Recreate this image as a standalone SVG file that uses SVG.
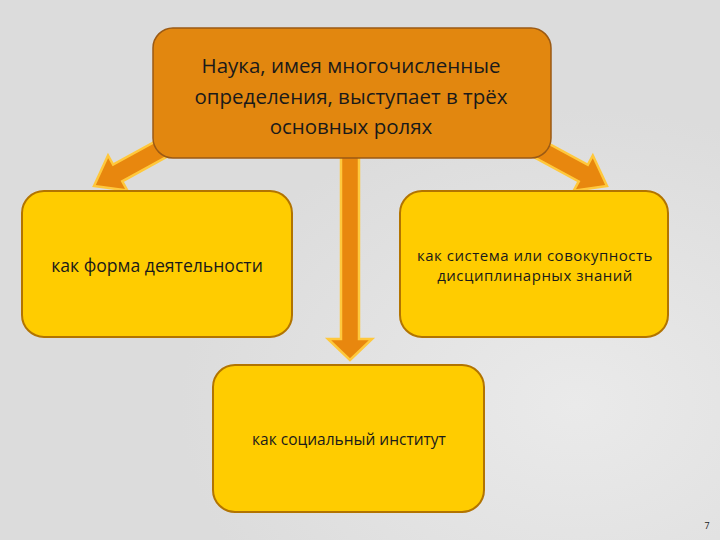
<svg xmlns="http://www.w3.org/2000/svg" width="720" height="540" viewBox="0 0 720 540">
<defs>
<radialGradient id="bg" cx="0.8" cy="0.75" r="0.55">
<stop offset="0" stop-color="#EAEAEA"/>
<stop offset="1" stop-color="#DCDCDC"/>
</radialGradient>
</defs>
<style>
.top{fill:#E2870F;stroke:#9B5A14;stroke-width:1.5}
.box{fill:#FFCC00;stroke:#B27400;stroke-width:2}
.arr{fill:#E8870E;stroke:#FFC83C;stroke-width:2.5}
text{font-family:"Open Sans","Liberation Sans",sans-serif;fill:#1a1a1a;text-anchor:middle}
</style>
<rect width="720" height="540" fill="url(#bg)"/>
<g id="connectors">
<polygon class="arr" transform="translate(94,186) rotate(151.2)" points="0,0 -27,20 -27,9.5 -95,9.5 -95,-9.5 -27,-9.5 -27,-20"/>
<polygon class="arr" transform="translate(607,186) rotate(28.5)" points="0,0 -27,20 -27,9.5 -95,9.5 -95,-9.5 -27,-9.5 -27,-20"/>
<polygon class="arr" points="341,150 359,150 359,339 372,339 350,360 328,339 341,339"/>
</g>
<g id="root">
<rect class="top" x="153" y="28" width="398" height="130" rx="20"/>
<text x="351" y="73" font-size="20.5">Наука, имея многочисленные</text>
<text x="351" y="104" font-size="20.5">определения, выступает в трёх</text>
<text x="351" y="134" font-size="20.5">основных ролях</text>
</g>
<g id="activity">
<rect class="box" x="22" y="191" width="270" height="146" rx="22"/>
<text x="157" y="272" font-size="17.6">как форма деятельности</text>
</g>
<g id="system">
<rect class="box" x="400" y="191" width="268" height="146" rx="22"/>
<text x="535" y="261" font-size="15" letter-spacing="0.5">как система или совокупность</text>
<text x="535" y="281" font-size="15" letter-spacing="0.5">дисциплинарных знаний</text>
</g>
<g id="institute">
<rect class="box" x="213" y="365" width="271" height="147" rx="22"/>
<text x="349" y="445" font-size="15.5">как социальный институт</text>
</g>
<text x="707" y="529" font-size="9">7</text>
</svg>
